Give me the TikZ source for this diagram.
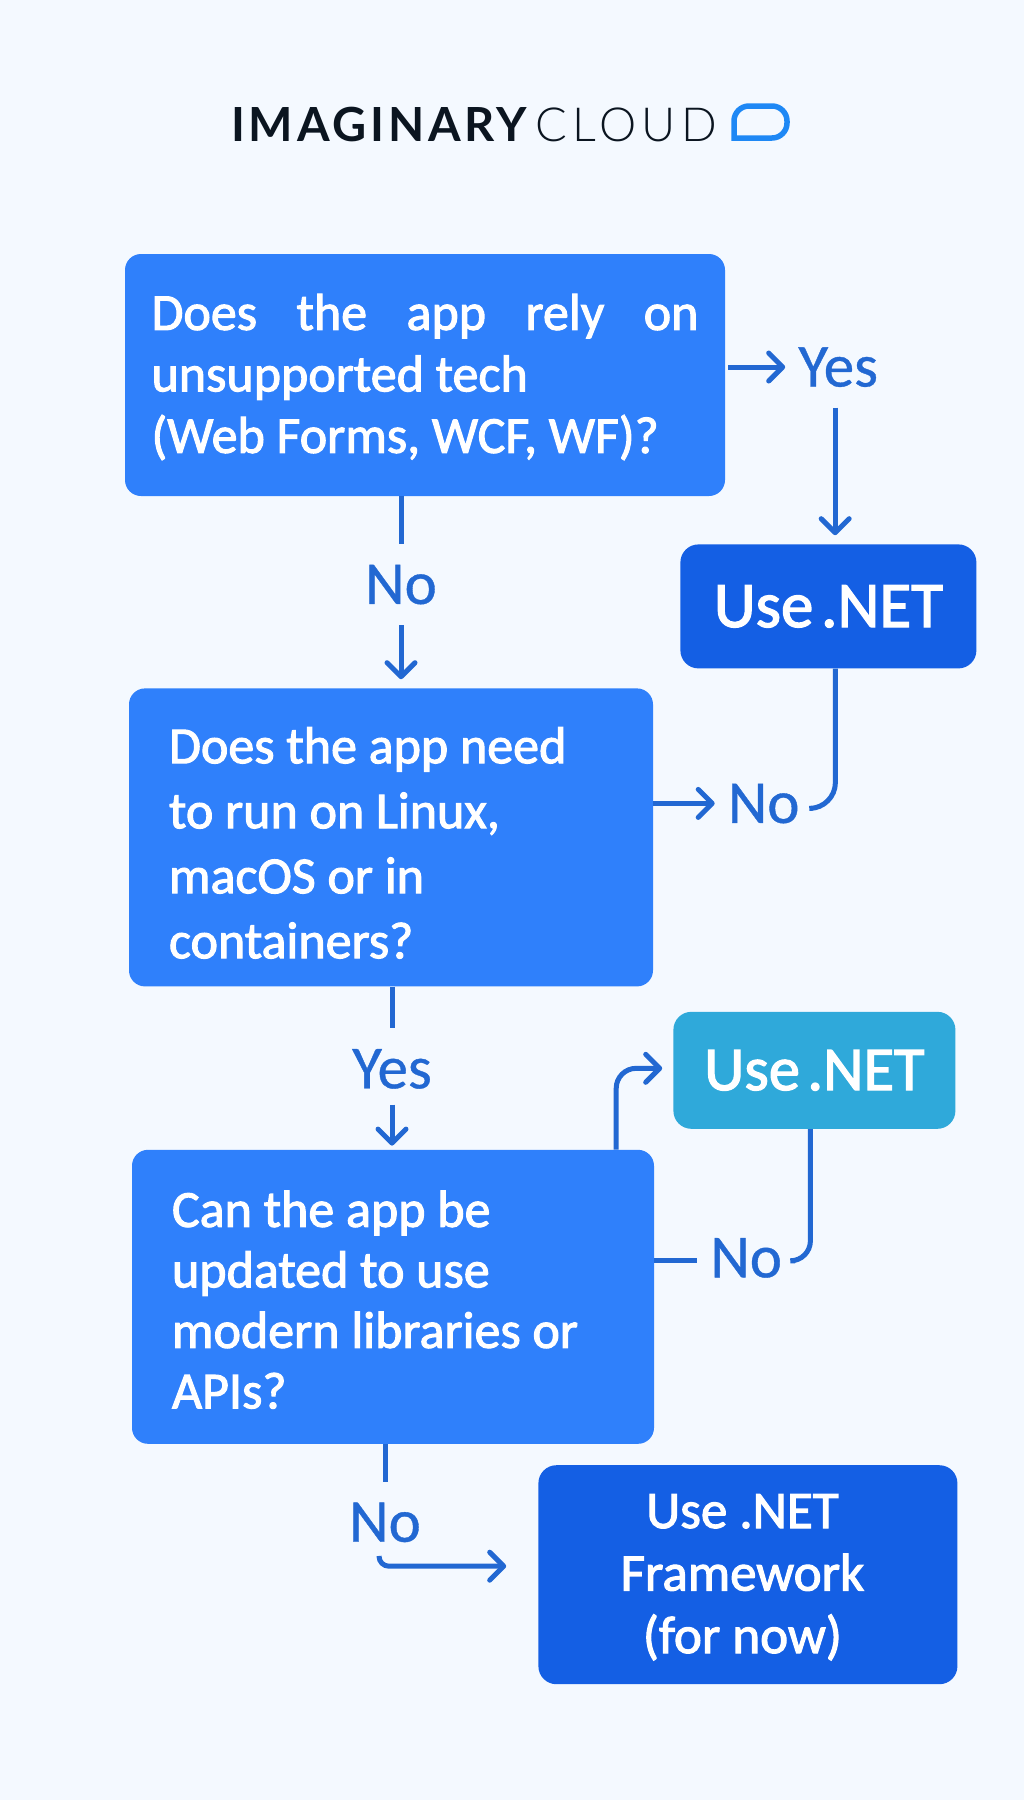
\documentclass[tikz,border=0pt]{standalone}
\usepackage{fontspec}
\usepackage{tikz}
\usetikzlibrary{positioning,arrows.meta}
\setmainfont{Carlito}
\newfontfamily\boxfont[FakeBold=2]{Carlito}
\newfontfamily\branchfont[FakeBold=0.6]{Carlito}
\newfontfamily\logofont[LetterSpace=8]{Lato}
\newfontfamily\logolight[LetterSpace=11]{Lato Light}
\definecolor{pagebg}{HTML}{F4F9FF}
\definecolor{questionblue}{HTML}{2F80FB}
\definecolor{answerblue}{HTML}{145FE4}
\definecolor{answercyan}{HTML}{2FA9DA}
\definecolor{lineblue}{HTML}{2268D2}
\definecolor{logoblue}{HTML}{1E88F5}
\definecolor{logoink}{HTML}{0B1520}

\begin{document}
\begin{tikzpicture}[
	x=1pt,
	y=-1pt,
	>={Straight Barb[length=14pt,width=28pt,round]},
	question/.style={rounded corners=16pt, fill=questionblue, text=white, align=flush left, inner xsep=40pt, inner ysep=0pt},
	answer/.style={rounded corners=18pt, fill=answerblue, text=white, align=center, inner sep=0pt},
	branch/.style={text=lineblue, font=\branchfont\fontsize{61}{64}\selectfont, text height=39pt, text depth=0pt, inner xsep=13pt, inner ysep=21pt},
	link/.style={draw=lineblue, line width=5pt},
	into/.style={->, shorten >=9pt},
	lowered/.style={execute at begin node={\rule{0pt}{#1}}},
	tightspace/.style={execute at begin node={\spaceskip=.12em\relax}},
	leftcentred/.style={execute at begin node={\spaceskip=0pt\leftskip=0pt plus 1fil\rightskip=#1 plus 1fil\parfillskip=0pt\relax}},
	logotext/.style={text=logoink, inner sep=0pt, text height=34pt, text depth=0pt}
	]
	\fill[pagebg] (0,0) rectangle (1024,1800);

	\node[logotext, anchor=west, font=\logofont\bfseries\fontsize{47}{50}\selectfont] (imaginary) at (231,124) {IMAGINARY};
	\node[logotext, right=8pt of imaginary, font=\logolight\fontsize{47}{50}\selectfont] (cloud) {CLOUD};
	\draw[logoblue, line width=5.5pt] (734,138) [rounded corners=15pt] -- (734,106) -- (787,106) -- (787,138) [sharp corners] -- (734,138) -- cycle;

	\node[question, text width=547pt, inner xsep=26.5pt, minimum height=242pt, align=justify, lowered=40pt, font=\boxfont\fontsize{52}{61.5}\selectfont] (q1) at (425,375) {Does the app rely on\linebreak unsupported tech\\(Web Forms, WCF, WF)?};
	\node[question, text width=444pt, minimum height=298pt, below=192pt of q1, xshift=-34pt, lowered=47pt, font=\boxfont\fontsize{52}{65}\selectfont] (q2) {Does the app need\\to run on Linux,\\macOS or in\\containers?};
	\node[question, text width=442pt, minimum height=294pt, below=163pt of q2, xshift=2pt, lowered=42pt, font=\boxfont\fontsize{52}{60.5}\selectfont] (q3) {Can the app be\\updated to use\\modern libraries or\\APIs?};

	\node[answer, tightspace, minimum width=296pt, minimum height=124pt, below right=48pt and -45pt of q1, font=\boxfont\fontsize{65}{68}\selectfont] (use1) {Use .NET};
	\node[answer, tightspace, fill=answercyan, minimum width=282pt, minimum height=117pt, below right=25pt and 20pt of q2, font=\boxfont\fontsize{62.5}{66}\selectfont] (use2) {Use .NET};
	\node[answer, text width=419pt, minimum height=219pt, leftcentred=11pt, lowered=39pt, below right=21pt and -116pt of q3, font=\boxfont\fontsize{53}{62.5}\selectfont] (use3) {Use .NET\\Framework\\(for now)};

	\node[branch, below=47.5pt of q1, xshift=-24pt] (no1) {No};
	\node[branch, right=60pt of q1, yshift=8pt] (yes1) {Yes};
	\node[branch, right=61.5pt of q2, yshift=34pt] (no2) {No};
	\node[branch, below=41.5pt of q2, xshift=1pt] (yes2) {Yes};
	\node[branch, right=43pt of q3, yshift=39pt] (no3) {No};
	\node[branch, below=37.5pt of q3, xshift=-8pt] (no4) {No};

	\path[link]
		(q1.south -| no1) edge (no1.north)
		(no1.south) edge[into] (no1.south |- q2.north)
		([xshift=3pt]q1.east |- yes1) edge[->] (yes1.west)
		([xshift=-3pt]yes1.south) edge[into] ([xshift=-3pt]yes1.south |- use1.north)
		(q2.east |- no2) edge[->] (no2.west)
		(q2.south -| yes2) edge (yes2.north)
		([yshift=5pt]yes2.south) edge[into, shorten >=4pt] (yes2.south |- q3.north)
		([yshift=-3pt]q3.east |- no3) edge ([yshift=-3pt]no3.west)
		(q3.south -| no4) edge (no4.north);

	\draw[link, rounded corners=26pt] ([xshift=7pt]use1.south) |- ([yshift=-5pt]no2.east);
	\draw[link, rounded corners=20pt] ([xshift=-4pt]use2.south) |- ([yshift=-3pt]no3.east);
	\draw[link, ->, rounded corners=20pt, shorten >=11pt] ([xshift=-38pt]q3.north east) |- ([yshift=2pt]use2.west);
	\draw[link, ->, rounded corners=10pt, shorten >=32pt] ([xshift=-6pt,yshift=6.5pt]no4.south) |- ([yshift=8.5pt]use3.west);
\end{tikzpicture}
\end{document}
